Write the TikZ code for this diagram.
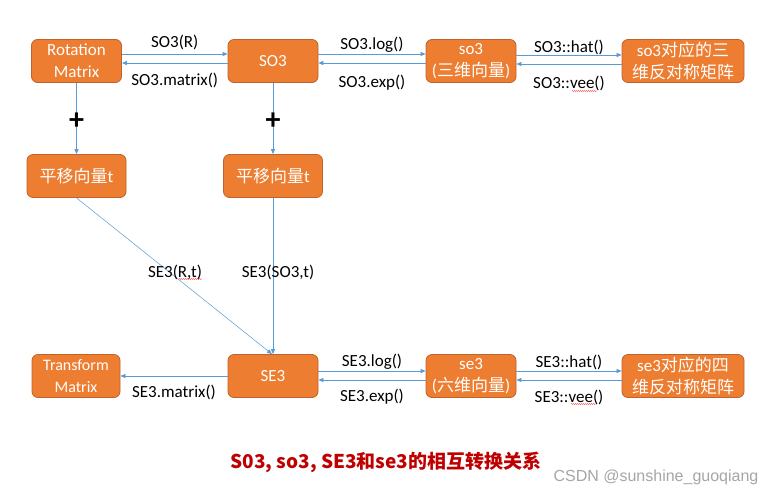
\documentclass[tikz,border=0pt]{standalone}
\usepackage{fontspec}
\setmainfont{Carlito}
\newfontfamily\cjk{Noto Sans CJK SC}
\newfontfamily\wm{Liberation Sans}
\usetikzlibrary{arrows.meta,decorations.pathmorphing}
\definecolor{boxfill}{HTML}{ED7D31}
\definecolor{boxline}{HTML}{C0622A}
\definecolor{arr}{HTML}{5B9BD5}
\definecolor{ttl}{HTML}{C00000}
\definecolor{wmc}{HTML}{A6A6A6}
\begin{document}
\begin{tikzpicture}[x=1pt,y=-1pt,
 box/.style={draw=boxline, fill=boxfill, line width=0.8pt, rounded corners=6pt,
   minimum width=90pt, minimum height=43pt, text=white, align=center,
   font=\fontsize{17}{22}\selectfont, inner sep=0pt},
 conn/.style={draw=arr, line width=0.7pt, -{Triangle[length=5pt,width=4pt]}},
 lab/.style={font=\fontsize{17}{20}\selectfont, text=black, inner sep=0pt},
 squig/.style={draw=red!80, line width=0.4pt, decorate, decoration={snake, amplitude=0.5pt, segment length=2pt}}
]
\useasboundingbox (0,0) rectangle (771,496);
\fill[white] (0,0) rectangle (771,496);

\node[box] (rm) at (76.5,61) {Rotation\\Matrix};
\node[box] (SO) at (273,61) {SO3};
\node[box] (so) at (471,61) {so3\\({\cjk 三维向量})};
\node[box, minimum width=122pt] (soh) at (683,61) {so3{\cjk 对应的三}\\{\cjk 维反对称矩阵}};
\node[box, minimum width=99pt] (t1) at (76.5,176) {{\cjk 平移向量}t};
\node[box, minimum width=99pt] (t2) at (273,176) {{\cjk 平移向量}t};
\node[box, minimum width=88pt, font=\fontsize{16}{22}\selectfont] (tm) at (76,376) {Transform\\Matrix};
\node[box] (SE) at (273,376) {SE3};
\node[box] (se) at (471,376) {se3\\({\cjk 六维向量})};
\node[box, minimum width=122pt] (seh) at (683,376) {se3{\cjk 对应的四}\\{\cjk 维反对称矩阵}};

% top row
\draw[conn] ([yshift=7pt]rm.east) -- ([yshift=7pt]SO.west) node[lab, midway, yshift=12pt] {SO3(R)};
\draw[conn] ([yshift=-2pt]SO.west) -- ([yshift=-2pt]rm.east) node[lab, midway, yshift=-17pt] {SO3.matrix()};
\draw[conn] ([yshift=7pt]SO.east) -- ([yshift=7pt]so.west) node[lab, midway, yshift=9pt] {SO3.log()};
\draw[conn] ([yshift=-2pt]so.west) -- ([yshift=-2pt]SO.east) node[lab, midway, yshift=-20pt] {SO3.exp()};
\draw[conn] ([yshift=6pt]so.east) -- ([yshift=6pt]soh.west) node[lab, midway, yshift=8pt] {SO3::hat()};
\draw[conn] ([yshift=-3pt]soh.west) -- ([yshift=-3pt]so.east) node[lab, midway, yshift=-19pt] {SO3::vee()};

% vertical
\draw[conn] (rm.south) -- (t1.north);
\draw[conn] (SO.south) -- (t2.north);
\node[font=\fontsize{30}{30}\selectfont\bfseries] (p1) at (76.5,121) {+};
\node[font=\fontsize{30}{30}\selectfont\bfseries] (p2) at (273,121) {+};

% to SE3
\draw[conn, line width=0.5pt] (t1.south) -- ([xshift=-1pt]SE.north);
\draw[conn] (t2.south) -- (SE.north);
\node[lab] (l1) at (175,272) {SE3(R,t)};
\node[lab] (l2) at (278,272) {SE3(SO3,t)};

% bottom row
\draw[conn] (SE.west) -- (tm.east) node[lab, midway, yshift=-16pt] {SE3.matrix()};
\draw[conn] ([yshift=5pt]SE.east) -- ([yshift=5pt]se.west) node[lab, midway, yshift=9pt] {SE3.log()};
\draw[conn] ([yshift=-4pt]se.west) -- ([yshift=-4pt]SE.east) node[lab, midway, yshift=-17pt] {SE3.exp()};
\draw[conn] ([yshift=5pt]se.east) -- ([yshift=5pt]seh.west) node[lab, midway, yshift=9pt] {SE3::hat()};
\draw[conn] ([yshift=-4pt]seh.west) -- ([yshift=-4pt]se.east) node[lab, midway, yshift=-17pt] {SE3::vee()};

% spell-check underlines
\draw[squig] (572,91) -- (597,91);
\draw[squig] (571,404) -- (596,404);
\draw[squig] (179,279) -- (202,279);

\node[font=\cjk\bfseries\fontsize{19}{19}\selectfont, text=ttl] (title) at (386,462) {S03, so3, SE3和se3的相互转换关系};
\node[font=\wm\fontsize{16}{16}\selectfont, text=wmc] (wmk) at (656,477) {CSDN @sunshine\_guoqiang};
\end{tikzpicture}
\end{document}
